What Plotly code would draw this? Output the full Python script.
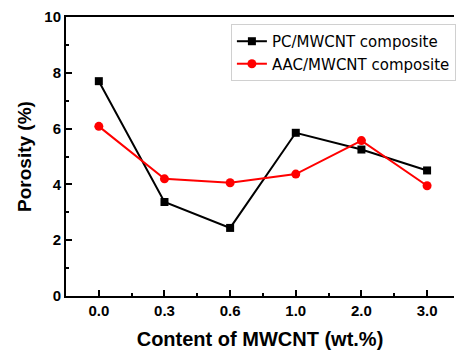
import plotly.graph_objects as go

categories = ["0.0", "0.3", "0.6", "1.0", "2.0", "3.0"]
pc_values = [7.7, 3.37, 2.44, 5.85, 5.25, 4.5]
aac_values = [6.08, 4.2, 4.06, 4.37, 5.57, 3.95]
y_ticks = [0, 2, 4, 6, 8, 10]

xpos = list(range(len(categories)))

fig = go.Figure()
fig.add_trace(go.Scatter(
    x=xpos, y=pc_values, name="PC/MWCNT composite", mode="lines+markers",
    line=dict(color="black", width=2),
    marker=dict(symbol="square", size=8, color="black")))
fig.add_trace(go.Scatter(
    x=xpos, y=aac_values, name="AAC/MWCNT composite", mode="lines+markers",
    line=dict(color="#ff0000", width=2),
    marker=dict(symbol="circle", size=9, color="#ff0000")))

fig.update_layout(
    width=456, height=356,
    margin=dict(l=66, r=0, t=17, b=60),
    paper_bgcolor="white", plot_bgcolor="white",
    font=dict(family="Liberation Sans, Arial, sans-serif", color="black"),
    showlegend=True,
    legend=dict(x=0.425, y=0.975, xanchor="left", yanchor="top",
                bordercolor="#d0d0d0", borderwidth=1, bgcolor="white",
                font=dict(size=15, family="DejaVu Sans, sans-serif"),
                tracegroupgap=0, itemwidth=30),
    xaxis=dict(
        range=[-0.5, 5.41], tickmode="array", tickvals=xpos, ticktext=categories,
        showline=True, linecolor="black", linewidth=2, mirror=True,
        ticks="inside", ticklen=6, tickwidth=2, tickcolor="black",
        minor=dict(ticks="inside", ticklen=3, tickwidth=2, tickcolor="black",
                   tickmode="array", tickvals=[i + 0.5 for i in xpos]),
        showgrid=False, zeroline=False,
        tickfont=dict(size=15, family="Liberation Sans, Arial, sans-serif", weight="bold"),
        title=dict(text="<b>Content of MWCNT (wt.%)</b>", font=dict(size=20), standoff=14),
    ),
    yaxis=dict(
        range=[0, 10], tickmode="array", tickvals=y_ticks,
        showline=True, linecolor="black", linewidth=2, mirror=False,
        ticks="inside", ticklen=6, tickwidth=2, tickcolor="black",
        minor=dict(ticks="inside", ticklen=3, tickwidth=2, tickcolor="black", dtick=1),
        showgrid=False, zeroline=False,
        tickfont=dict(size=15, family="Liberation Sans, Arial, sans-serif", weight="bold"),
        title=dict(text="<b>Porosity (%)</b>", font=dict(size=19), standoff=8),
    ),
)

fig.write_html("out.html")
